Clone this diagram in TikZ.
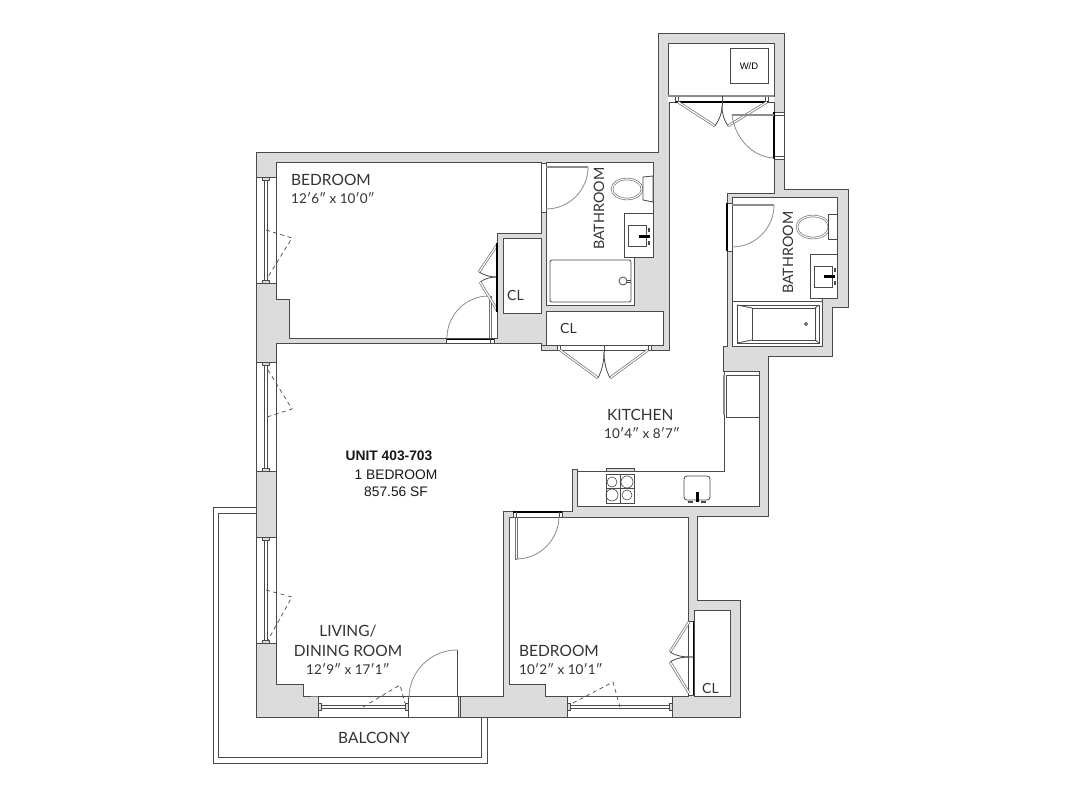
\documentclass[tikz,border=0pt]{standalone}
\usepackage{fontspec}
\setmainfont{Lato}
\newfontfamily\arialf{Liberation Sans}
\definecolor{wallg}{HTML}{DCDCDC}
\definecolor{ink}{HTML}{4A4A4A}
\definecolor{midg}{HTML}{8C8C8C}
\definecolor{doorg}{HTML}{707070}
\tikzset{
  wall/.style={draw=ink,line width=1pt,line join=miter},
  room/.style={wall,fill=white},
  fine/.style={draw=ink,line width=.8pt},
  dbl/.style={draw=doorg,line width=2.6pt,postaction={draw=white,line width=1.2pt}},
  bowl/.style={draw=doorg,line width=2.4pt,postaction={draw=white,line width=1.1pt}},
  swing/.style={draw=midg,line width=.8pt},
  heavy/.style={draw=black,line width=1.1pt},
  bar/.style={draw=midg,line width=2.4pt},
  thick bar/.style={draw=black,line width=3pt},
  dashy/.style={draw=ink,line width=.7pt,dash pattern=on 4pt off 3.5pt},
  lab/.style={inner sep=0pt,font=\fontsize{15.5}{18}\selectfont,text=black!80,anchor=base west},
  bathl/.style={lab,font=\fontsize{14.3}{17}\selectfont,rotate=90},
  cll/.style={lab,font=\fontsize{14}{16}\selectfont},
  dim/.style={inner sep=0pt,font=\fontsize{13.5}{16}\selectfont,text=black!80,anchor=base west},
  unit/.style={inner sep=0pt,font=\arialf\fontsize{13.8}{16}\selectfont,text=black!90,anchor=base},
  winv/.style={fill=white,draw=ink,line width=1pt},
}
\begin{document}
\begin{tikzpicture}[x=1pt,y=-1pt]
\useasboundingbox (0,0) rectangle (1066,800);
\fill[white] (0,0) rectangle (1066,800);
% balcony
\draw[wall] (256,507)--(213,507)--(213,763)--(487,763)--(487,717);
\draw[wall] (256,513)--(218,513)--(218,757)--(481,757)--(481,717);
% footprint
\draw[wall,fill=wallg] (256,152)--(658,152)--(658,34)--(784,34)--(784,189)--(848,189)--(848,307)--(832,307)--(832,356)--(768,356)--(768,516)--(697,516)--(697,600)--(740,600)--(740,717)--(256,717)--cycle;
% rooms
\draw[room] (276,162)--(541,162)--(541,233)--(497,233)--(497,338)--(289,338)--(289,299)--(276,299)--cycle;
\draw[room] (546,162)--(653,162)--(653,257)--(634,257)--(634,305)--(546,305)--cycle;
\draw[room] (503,238) rectangle (541,313);
\draw[room] (546,311) rectangle (663,345);
\draw[room] (668,44) rectangle (774,96);
\draw[room] (276,343)--(541,343)--(541,350)--(669,350)--(669,102)--(774,102)--(774,193)--(727,193)--(727,346)--(723,346)--(723,371)--(759,371)--(759,506)--(577,506)--(577,469)--(572,469)--(572,511)--(503,511)--(503,696)--(318,696)--(303,696)--(303,684)--(276,684)--cycle;
\draw[room] (732,197)--(837,197)--(837,298)--(822,298)--(822,346)--(732,346)--cycle;
\draw[room] (509,517)--(688,517)--(688,696)--(545,696)--(545,684)--(509,684)--cycle;
\draw[room] (694,610) rectangle (730,696);
% left windows
\draw[winv] (256,177) rectangle (276,283);
\draw[winv] (256,362) rectangle (276,471);
\draw[winv] (256,537) rectangle (276,643);
\foreach \a/\b in {180/281,365/469,540/641}{
  \draw[fine] (264.8,\a) -- (264.8,\b);
  \draw[fine] (267.4,\a) -- (267.4,\b);
  \draw[fine,fill=wallg] (262.5,\a-2.5) rectangle (269.5,\a+.5);
  \draw[fine,fill=wallg] (262.5,\b-.5) rectangle (269.5,\b+2.5);
}
\draw[dashy] (266,230)--(292,238)--(268,277);
\draw[dashy] (268,370)--(292,409)--(267,417);
\draw[dashy] (266,590)--(292,597)--(268,640);
% bottom openings
\draw[winv] (318,696) rectangle (408,717);
\draw[winv] (408,696) rectangle (458,717);
\draw[winv] (567,696) rectangle (672,717);
\draw[fine] (460,696)--(460,717);
\foreach \a/\b in {321/406,570/670}{
  \draw[fine] (\a,705.8) -- (\b,705.8);
  \draw[fine] (\a,708.4) -- (\b,708.4);
  \draw[fine,fill=wallg] (\a-2.5,703.5) rectangle (\a+.5,710.5);
  \draw[fine,fill=wallg] (\b-.5,703.5) rectangle (\b+2.5,710.5);
}
\draw[dashy] (363,707)--(400,685)--(405,703);
\draw[dashy] (573,703)--(613,682)--(620,707);
% main door
\draw[fine] (457,650)--(457,696);
\draw[swing] (457,650) arc[start angle=-90,end angle=-180,radius=48];
% bedroom 1 door
\fill[white] (446,338) rectangle (494,343);
\draw[heavy] (446,339)--(494,339);
\draw[fine] (446,338) rectangle (494,343);
\draw[fine] (490,338)--(490,343);
\draw[fine,draw=doorg] (489,296)--(489,338) (491.4,296)--(491.4,338) (489,296)--(491.4,296);
\draw[swing] (489,296) arc[start angle=-90,end angle=-180,radius=42];
\draw[dbl] (497,245)--(479,272);
\draw[fine] (479,272) .. controls (486,276) and (491,277) .. (497,277);
\draw[fine] (480,282) .. controls (486,278) and (491,277) .. (497,277);
\draw[dbl] (480,282)--(497,310);
\draw[heavy] (497,243)--(497,312);
% bath 1 door
\fill[white] (541,163) rectangle (546,212);
\draw[fine] (541,163) rectangle (546,212);
\draw[bar,line width=2pt] (546,167)--(588,167);
\draw[swing] (588,167) arc[start angle=0,end angle=90,radius=42];
% bath 1 fixtures
\draw[fine] (550,260) [rounded corners=2pt] rectangle (631,302);
\draw[fine] (623,281) circle (4);
\draw[fine] (627,280)--(631,280) (627,282)--(631,282);
\draw[bowl] (627,189) ellipse (15 and 10);
\draw[fine,fill=white] (643,177)--(653,176)--(653,202)--(643,200)--cycle;
\draw[fine] (624,213) rectangle (653,257);
\draw[fine] (628,225) rectangle (646,246);
\draw[thick bar] (639,236)--(650,236);
\draw[draw=ink,line width=1.6pt] (649,228)--(649,232) (649,241)--(649,245);
% CL2 doors
\fill[white] (557,345) rectangle (651,350);
\draw[fine] (557,345)--(557,350) (560,345)--(560,350) (651,345)--(651,350) (648,345)--(648,350);
\draw[fine] (541,345)--(663,345);
\draw[dbl] (560,350)--(598,378);
\draw[dbl] (648,350)--(610,378);
\draw[fine] (598,378) .. controls (602,370) and (604,362) .. (604,352);
\draw[fine] (610,378) .. controls (606,370) and (604,362) .. (604,352);
\draw[fine] (604,345)--(604,352);
% laundry door
\fill[white] (668,96.5) rectangle (774,101.5);
\draw[bar,line width=1.6pt] (668,96)--(774,96);
\draw[heavy] (675,102)--(768,102);
\draw[fine] (675,97)--(675,102) (678,97)--(678,102) (768,97)--(768,102) (765,97)--(765,102);
\draw[dbl] (678,102)--(715,126);
\draw[dbl] (767,102)--(728,126);
\draw[fine] (715,126) .. controls (719,120) and (722,114) .. (722,106);
\draw[fine] (728,126) .. controls (724,120) and (722,114) .. (722,106);
\draw[fine] (722,96)--(722,106);
\draw[fine] (730,48) rectangle (768,83);
% corridor door
\fill[white] (775,112) rectangle (783.5,159);
\draw[fine] (774,112)--(784,112) (774,115)--(784,115) (774,156)--(784,156) (774,159)--(784,159) (784,112)--(784,159);
\draw[heavy] (774,112)--(774,159);
\draw[bar] (732,115)--(774,115);
\draw[swing] (732,115) .. controls (735,138) and (752,157) .. (774,158);
% bath 2 door
\fill[white] (727,203) rectangle (732,251);
\draw[fine] (727,203) rectangle (732,251);
\draw[heavy] (727,203)--(727,251);
\draw[bar,line width=1.6pt] (732,205)--(774,205);
\draw[swing] (774,205) arc[start angle=0,end angle=90,radius=42];
% bath 2 fixtures
\draw[bowl] (813,227) ellipse (16 and 11);
\draw[fine,fill=white] (828,214) rectangle (837,239);
\draw[fine,fill=white] (810,254) rectangle (837,298);
\draw[fine] (814,266) rectangle (832,287);
\draw[thick bar] (824,276)--(835,276);
\draw[draw=ink,line width=1.6pt] (835,268)--(835,272) (835,281)--(835,285);
\draw[fine] (732,301)--(822,301);
\draw[fine] (737,305) rectangle (819,343);
\draw[fine] (752,308) rectangle (815,340);
\draw[fine] (737,305)--(752,308) (737,343)--(752,340) (819,305)--(815,308) (819,343)--(815,340);
\draw[fine] (806,324) circle (1.5);
% kitchen
\draw[wall] (724,371)--(724,471)--(577,471);
\draw[wall] (726,375)--(759,375) (726,417)--(759,417) (726,375)--(726,417);
\draw[bar,line width=1.4pt] (724,375)--(724,415);
\draw[fine,line width=.6pt] (606,474) rectangle (634,503);
\draw[fine,line width=.6pt] (620,474)--(620,503) (606,488)--(634,488);
\draw[fine,line width=.6pt] (612,482) circle (5);
\draw[fine,line width=.6pt] (627,482) circle (6);
\draw[fine,line width=.6pt] (612,495) circle (6);
\draw[fine,line width=.6pt] (627,495) circle (5);
\draw[fine,fill=wallg] (606,468.5) rectangle (634,471);
\draw[fine,rounded corners=3pt] (684,476) rectangle (710,500);
\draw[thick bar] (697,492)--(697,502);
\draw[draw=ink,line width=1.6pt] (688,502)--(693,502) (701,502)--(706,502);
% bedroom 2 door
\fill[white] (513,511.5) rectangle (562,516.5);
\draw[fine] (513,511) rectangle (562,517);
\draw[heavy] (513,512)--(562,512);
\draw[fine] (516,512)--(516,517) (559,512)--(559,517);
\draw[fine,draw=doorg] (515,517)--(515,559) (517.4,517)--(517.4,559) (515,559)--(517.4,559);
\draw[swing] (516,559) arc[start angle=90,end angle=0,radius=43];
% closet 3 doors
\fill[white] (688.5,621) rectangle (693.5,695);
\draw[fine] (688,621)--(694,621) (688,695)--(694,695);
\draw[heavy] (693.5,621)--(693.5,695);
\draw[dbl] (689,622)--(670,652);
\draw[dbl] (670,662)--(689,693);
\draw[fine] (670,652) .. controls (676,656) and (682,657) .. (693,657);
\draw[fine] (670,662) .. controls (676,658) and (682,657) .. (693,657);
% text
\node[lab] (bed1) at (291,185) {BEDROOM};
\node[dim] (bed1d) at (291,203) {12′6″ x 10′0″};
\node[bathl] (bath1) at (604,250) {BATHROOM};
\node[bathl] (bath2) at (793,294) {BATHROOM};
\node[cll] (cl1) at (507,300) {CL};
\node[cll] (cl2) at (560,333) {CL};
\node[cll] (cl3) at (702,693) {CL};
\node[inner sep=0pt,font=\arialf\fontsize{9.5}{11}\selectfont] (wd) at (749,66) {W/D};
\node[lab] (kit) at (607,420) {KITCHEN};
\node[dim] (kitd) at (604,438) {10′4″ x 8′7″};
\node[unit,font=\arialf\bfseries\fontsize{13.8}{16}\selectfont] (un) at (389,460) {UNIT 403-703};
\node[unit] (un2) at (396,479) {1 BEDROOM};
\node[unit] (un3) at (396,496) {857.56 SF};
\node[lab,anchor=base] (liv) at (348,636) {LIVING/};
\node[lab,anchor=base] (din) at (348,656) {DINING ROOM};
\node[dim,anchor=base] (livd) at (348,674) {12′9″ x 17′1″};
\node[lab] (bal) at (338,743) {BALCONY};
\node[lab] (bed2) at (519,656) {BEDROOM};
\node[dim] (bed2d) at (519,674) {10′2″ x 10′1″};
\end{tikzpicture}
\end{document}
